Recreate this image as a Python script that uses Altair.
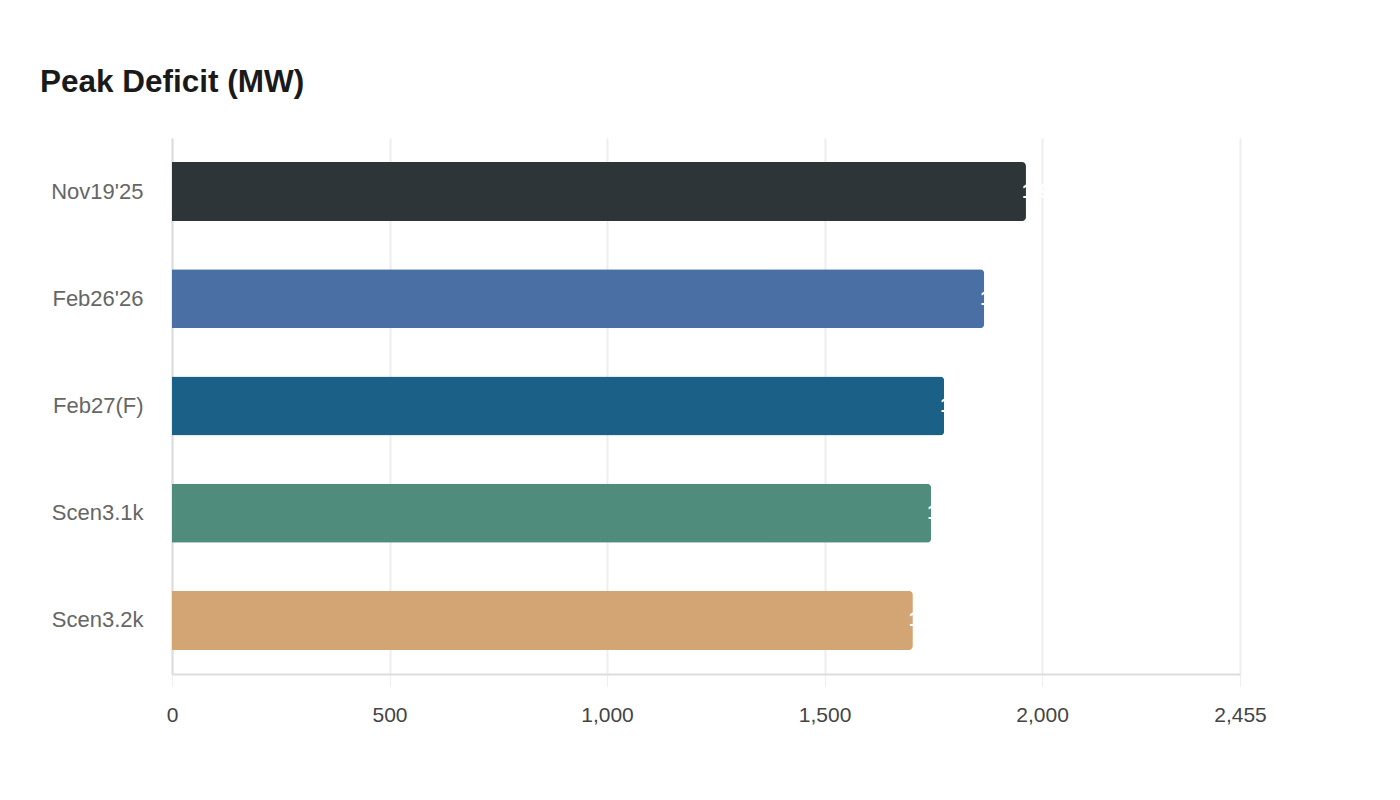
import altair as alt
import pandas as pd

scenarios = ["Nov19'25", "Feb26'26", "Feb27(F)", "Scen3.1k", "Scen3.2k"]
deficit_mw = [1963, 1867, 1775, 1745, 1703]
bar_colors = ["#2d3538", "#4a6fa5", "#1a6087", "#4f8c7c", "#d4a574"]
x_ticks = [0, 500, 1000, 1500, 2000, 2455]

df = pd.DataFrame({"scenario": scenarios, "deficit": deficit_mw})
df["label"] = df["deficit"].map("{:,}".format)

font = "Liberation Sans"

base = alt.Chart(df).encode(
    y=alt.Y(
        "scenario:N",
        sort=scenarios,
        title=None,
        scale=alt.Scale(paddingInner=0.45, paddingOuter=0.225),
        axis=alt.Axis(
            labelFontSize=22,
            labelColor="#666666",
            labelFont=font,
            labelPadding=29,
            labelBaseline="middle",
            ticks=False,
            domainColor="#dddddd",
            domainWidth=2,
            grid=False,
        ),
    ),
)

bars = base.mark_bar(cornerRadiusEnd=4).encode(
    x=alt.X(
        "deficit:Q",
        title=None,
        scale=alt.Scale(domain=[0, 2455], nice=False),
        axis=alt.Axis(
            values=x_ticks,
            format=",d",
            labelFontSize=21,
            labelColor="#444444",
            labelFont=font,
            labelPadding=18,
            labelFlush=False,
            tickColor="#eeeeee",
            tickSize=12,
            domainColor="#dddddd",
            domainWidth=2,
            gridColor="#eeeeee",
            gridWidth=2,
        ),
    ),
    color=alt.Color("scenario:N", sort=scenarios, legend=None,
                    scale=alt.Scale(domain=scenarios, range=bar_colors)),
)

labels = base.mark_text(align="left", dx=-4, color="white", fontSize=20,
                        font=font, fontWeight="bold").encode(
    x="deficit:Q",
    text="label:N",
)

chart = (bars + labels).properties(
    width=1068,
    height=536,
    padding={"left": 164, "top": 130, "right": 140, "bottom": 110},
    autosize=alt.AutoSizeParams(type="none"),
    title=alt.TitleParams(
        "Peak Deficit (MW)",
        anchor="start",
        frame="group",
        dx=-132,
        offset=40,
        fontSize=31.5,
        font=font,
        fontWeight="bold",
        color="#1a1a1a",
    ),
).configure_view(stroke=None)

chart.save("out.html", embed_options={"renderer": "svg", "actions": False})
